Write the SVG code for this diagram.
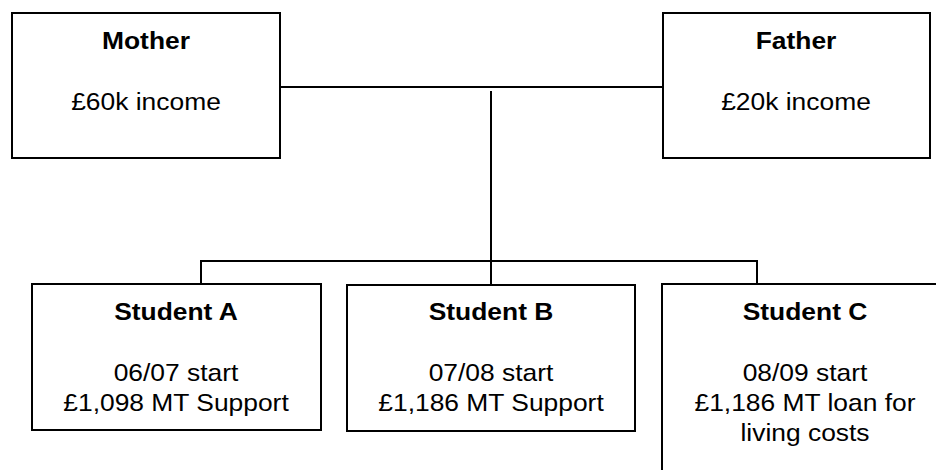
<svg xmlns="http://www.w3.org/2000/svg" width="936" height="470" viewBox="0 0 936 470">
<style>
.box{fill:#fff;stroke:#000;stroke-width:2}
.t{font-family:"Liberation Sans",Arial,sans-serif;font-size:24px;fill:#000;text-anchor:middle}
.b{font-weight:bold}
.c{fill:none;stroke:#000;stroke-width:2}
</style>
<rect width="936" height="470" fill="#fff"/>
<g id="connectors">
<line class="c" x1="280" y1="87" x2="662" y2="87" stroke-width="1.6"/>
<line class="c" x1="491" y1="91" x2="491" y2="284"/>
<polyline class="c" points="201,284 201,261 757,261 757,284"/>
</g>
<g id="mother">
<rect class="box" x="12" y="13" width="268" height="145"/>
<g transform="translate(146,0) scale(1.1,1)"><text class="t b" x="0" y="49">Mother</text><text class="t" x="0" y="110">£60k income</text></g>
</g>
<g id="father">
<rect class="box" x="663" y="13" width="267" height="145"/>
<g transform="translate(796,0) scale(1.1,1)"><text class="t b" x="0" y="49">Father</text><text class="t" x="0" y="110">£20k income</text></g>
</g>
<g id="studentA">
<rect class="box" x="32" y="284" width="289" height="146"/>
<g transform="translate(176,0) scale(1.1,1)"><text class="t b" x="0" y="320">Student A</text><text class="t" x="0" y="381">06/07 start</text><text class="t" x="0" y="411">£1,098 MT Support</text></g>
</g>
<g id="studentB">
<rect class="box" x="347" y="285" width="288" height="146"/>
<g transform="translate(491,0) scale(1.1,1)"><text class="t b" x="0" y="320">Student B</text><text class="t" x="0" y="381">07/08 start</text><text class="t" x="0" y="411">£1,186 MT Support</text></g>
</g>
<g id="studentC">
<rect class="box" x="662" y="284" width="300" height="200"/>
<g transform="translate(805,0) scale(1.1,1)"><text class="t b" x="0" y="320">Student C</text><text class="t" x="0" y="381">08/09 start</text><text class="t" x="0" y="411">£1,186 MT loan for</text><text class="t" x="0" y="441">living costs</text></g>
</g>
</svg>
